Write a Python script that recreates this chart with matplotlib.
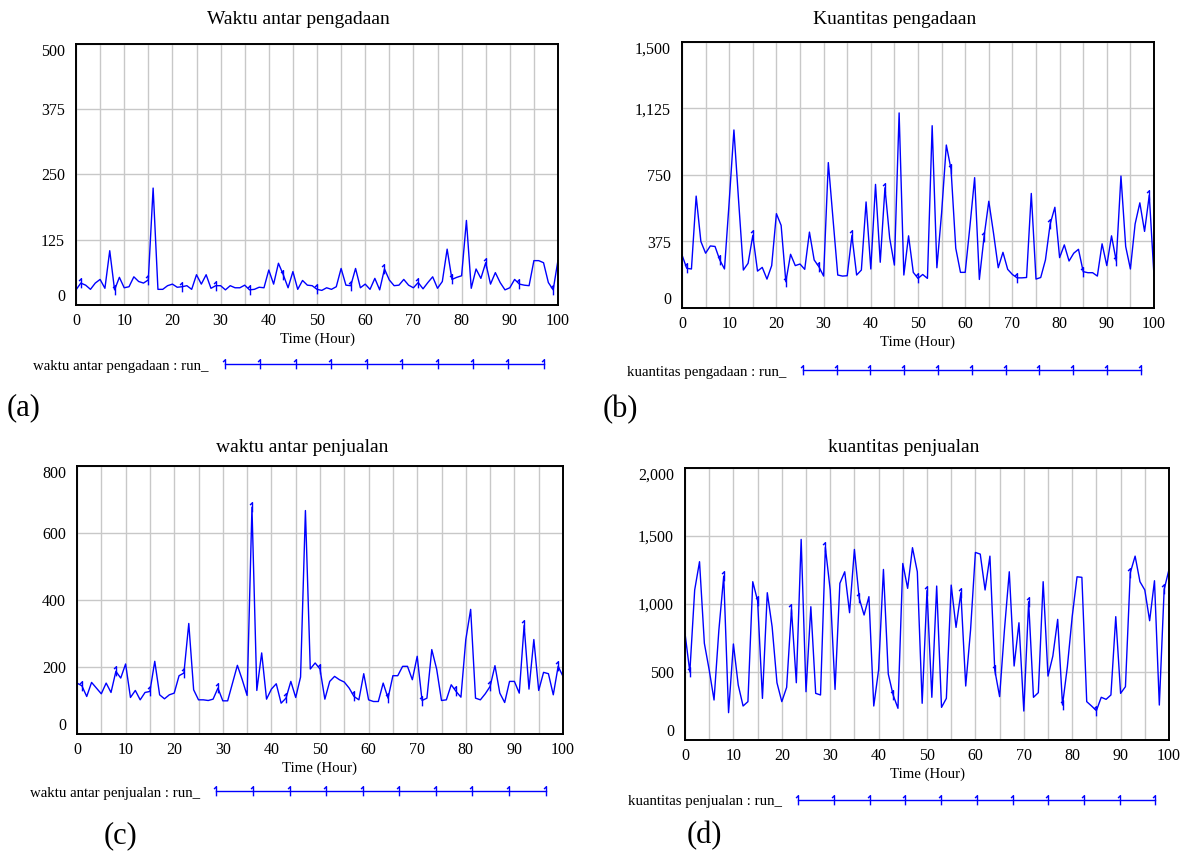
import numpy as np
import matplotlib.pyplot as plt
from matplotlib.path import Path
from matplotlib.ticker import MultipleLocator

plt.rcParams['font.family'] = ['Liberation Serif', 'DejaVu Serif']

hours = np.arange(101)

waktu_antar_pengadaan = [29, 42, 38, 30, 42, 49, 32, 104, 29, 53,
                         33, 35, 54, 45, 42, 48, 224, 30, 30, 37,
                         40, 34, 35, 37, 30, 58, 40, 58, 32, 37,
                         37, 29, 37, 33, 33, 38, 29, 30, 34, 33,
                         67, 40, 80, 58, 33, 64, 30, 47, 38, 37,
                         30, 28, 33, 30, 35, 70, 38, 37, 70, 33,
                         40, 30, 51, 29, 69, 48, 37, 38, 49, 38,
                         33, 43, 31, 43, 54, 32, 45, 107, 49, 53,
                         56, 162, 32, 69, 51, 81, 40, 62, 43, 29,
                         33, 49, 40, 38, 37, 85, 85, 81, 43, 29,
                         86]

kuantitas_pengadaan = [299, 224, 220, 631, 375, 309, 350, 347, 271, 220,
                       600, 1004, 602, 214, 252, 409, 208, 229, 163, 239,
                       532, 466, 148, 303, 239, 248, 218, 428, 271, 233,
                       180, 820, 500, 186, 180, 182, 409, 186, 214, 598,
                       220, 697, 258, 678, 394, 242, 1100, 186, 407, 201,
                       167, 189, 167, 1028, 227, 536, 919, 782, 337, 201,
                       201, 460, 735, 161, 403, 602, 422, 227, 314, 218,
                       189, 170, 170, 172, 646, 163, 172, 271, 474, 568,
                       284, 356, 265, 309, 331, 205, 199, 199, 180, 362,
                       239, 407, 265, 744, 347, 220, 474, 593, 432, 636,
                       180]

waktu_antar_penjualan = [152, 144, 112, 154, 137, 120, 152, 124, 187, 167,
                         209, 109, 130, 102, 124, 127, 217, 117, 105, 117,
                         122, 174, 182, 330, 132, 102, 102, 100, 104, 137,
                         99, 99, 152, 205, 162, 115, 677, 130, 242, 104,
                         134, 150, 92, 107, 157, 109, 170, 667, 194, 212,
                         194, 104, 157, 172, 162, 155, 137, 112, 102, 180,
                         102, 97, 97, 152, 107, 174, 174, 202, 202, 162,
                         232, 100, 107, 252, 194, 100, 102, 147, 127, 110,
                         282, 372, 107, 102, 120, 142, 204, 122, 94, 157,
                         157, 122, 324, 134, 282, 130, 184, 180, 117, 202,
                         172]

kuantitas_penjualan = [784, 500, 1103, 1311, 711, 515, 294, 809, 1205, 201,
                       706, 404, 250, 282, 1164, 1024, 306, 1083, 833, 421,
                       282, 387, 960, 421, 1475, 355, 980, 343, 331, 1416,
                       1103, 372, 1152, 1237, 936, 1401, 1041, 919, 1054, 250,
                       515, 1254, 485, 331, 233, 1298, 1115, 1414, 1237, 270,
                       1098, 314, 1132, 240, 306, 1139, 828, 1083, 397, 809,
                       1379, 1367, 1103, 1352, 515, 319, 809, 1237, 544, 862,
                       213, 1017, 314, 348, 1164, 470, 617, 887, 257, 539,
                       907, 1200, 1196, 282, 250, 216, 314, 299, 331, 907,
                       343, 392, 1230, 1352, 1164, 1103, 877, 1171, 257, 1107,
                       1254]

yticks_a = [0, 125, 250, 375, 500]
ylabels_a = ['0', '125', '250', '375', '500']
yticks_b = [0, 375, 750, 1125, 1500]
ylabels_b = ['0', '375', '750', '1,125', '1,500']
yticks_c = [0, 200, 400, 600, 800]
ylabels_c = ['0', '200', '400', '600', '800']
yticks_d = [0, 500, 1000, 1500, 2000]
ylabels_d = ['0', '500', '1,000', '1,500', '2,000']

# vensim style "1" marker: a tick with a small flag
ONE = Path([(0.0, -1.0), (0.0, 1.0), (-0.5, 0.5)],
           [Path.MOVETO, Path.LINETO, Path.LINETO])

W, H = 1190, 855
fig = plt.figure(figsize=(W / 100, H / 100), dpi=100)
LEGFS = 10.7
fs_px = LEGFS * 100 / 72


def box(x0, y0, x1, y1):
    return [x0 / W, 1 - y1 / H, (x1 - x0) / W, (y1 - y0) / H]


def panel(rect, y, yticks, ylabels, title, tpos, leg_label, leg, npts, tag, tagpos):
    ax = fig.add_axes(box(*rect))
    ax.plot(hours, y, color='#0000ff', lw=1.0, marker=ONE, ms=7, mew=1.0,
            mfc='none', markevery=(1, 7), label=leg_label)
    ax.set_xlim(0, 100)
    ax.set_ylim(yticks[0], yticks[-1])
    ax.set_xticks(range(0, 101, 10))
    ax.xaxis.set_minor_locator(MultipleLocator(5))
    ax.set_yticks(yticks)
    ax.set_yticklabels(ylabels)
    ax.grid(True, which='both', axis='x', color='#c8c8c8', lw=1)
    ax.grid(True, which='major', axis='y', color='#c8c8c8', lw=1)
    ax.tick_params(which='both', length=0, labelsize=11.5)
    ax.tick_params(axis='x', pad=6)
    ax.tick_params(axis='y', pad=8)
    for s in ax.spines.values():
        s.set_linewidth(1.4)
    labs = ax.get_yticklabels()
    labs[0].set_va('bottom')
    labs[-1].set_va('top')
    ax.set_xlabel('Time (Hour)', fontsize=LEGFS, labelpad=2)
    fig.text(tpos[0] / W, 1 - tpos[1] / H, title, ha='center', va='center', fontsize=14)
    lx, ly, lstart, lend = leg
    ax.legend(loc='center left', bbox_to_anchor=(lx / W, 1 - ly / H),
              bbox_transform=fig.transFigure, frameon=False, markerfirst=False,
              numpoints=npts, handlelength=(lend - lstart) / fs_px,
              handletextpad=0.8, borderpad=0, borderaxespad=0, fontsize=LEGFS)
    fig.text(tagpos[0] / W, 1 - tagpos[1] / H, tag, ha='left', va='center', fontsize=22)
    return ax


panel((76, 44, 558, 305), waktu_antar_pengadaan, yticks_a, ylabels_a,
      'Waktu antar pengadaan', (298, 20),
      'waktu antar pengadaan : run_', (33, 366, 224, 552), 10, '(a)', (7, 408))
panel((682, 42, 1154, 308), kuantitas_pengadaan, yticks_b, ylabels_b,
      'Kuantitas pengadaan', (895, 20),
      'kuantitas pengadaan : run_', (627, 372, 801, 1148), 11, '(b)', (603, 410))
panel((77, 466, 563, 734), waktu_antar_penjualan, yticks_c, ylabels_c,
      'waktu antar penjualan', (302, 447),
      'waktu antar penjualan : run_', (30, 793, 218, 556), 10, '(c)', (104, 836))
panel((685, 468, 1169, 740), kuantitas_penjualan, yticks_d, ylabels_d,
      'kuantitas penjualan', (904, 447),
      'kuantitas penjualan : run_', (628, 801, 798, 1164), 11, '(d)', (687, 836))

fig.savefig('out.png', dpi=100)
